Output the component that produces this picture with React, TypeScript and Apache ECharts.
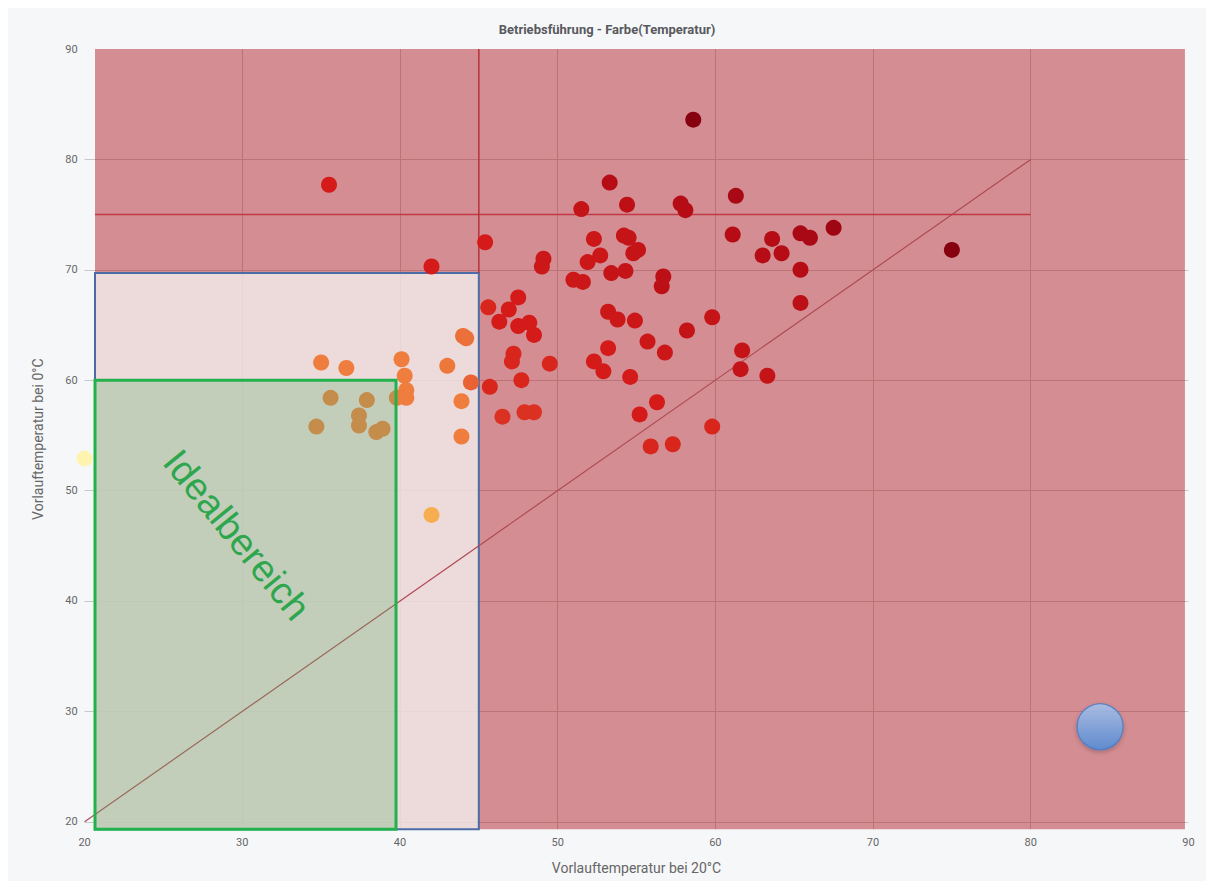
import { useEffect, useRef } from 'react';
import * as echarts from 'echarts';

// ---- texts ----
const chartTitle = 'Betriebsführung - Farbe(Temperatur)';
const xAxisName = 'Vorlauftemperatur bei 20°C';
const yAxisName = 'Vorlauftemperatur bei 0°C';
const idealLabel = 'Idealbereich';

// ---- axes ----
const xMin = 20;
const xMax = 90;
const yMin = 19.32;
const yMax = 90;

// ---- measured points: Vorlauftemperatur bei 20°C / bei 0°C / Temperatur (colour) ----
const vorlauf20 = [
  35.0, 36.6, 35.6, 37.9, 34.7, 37.4, 37.4, 38.5, 38.9, 40.1,
  40.3, 40.4, 40.4, 39.8, 42.0, 43.0, 44.0, 44.2, 44.5, 43.9,
  43.9, 35.5, 42.0, 45.4, 51.5, 53.3, 54.4, 57.8, 58.1, 58.6,
  61.3, 52.3, 54.2, 54.5, 52.7, 51.9, 54.8, 55.1, 49.1, 49.0,
  53.4, 54.3, 51.0, 51.6, 56.7, 56.6, 47.5, 45.6, 46.9, 46.3,
  47.5, 48.2, 48.5, 53.2, 53.8, 54.9, 55.7, 56.8, 58.2, 59.8,
  53.2, 52.3, 52.9, 47.2, 47.1, 49.5, 54.6, 47.7, 45.7, 46.5,
  47.9, 48.5, 56.3, 55.2, 55.9, 57.3, 59.8, 61.1, 63.6, 63.0,
  64.2, 65.4, 66.0, 67.5, 65.4, 65.4, 75.0, 61.7, 61.6, 63.3,
  20.0,
];
const vorlauf0 = [
  61.6, 61.1, 58.4, 58.2, 55.8, 56.8, 55.9, 55.3, 55.6, 61.9,
  60.4, 59.1, 58.4, 58.4, 47.8, 61.3, 64.0, 63.8, 59.8, 58.1,
  54.9, 77.7, 70.3, 72.5, 75.5, 77.9, 75.9, 76.0, 75.4, 83.6,
  76.7, 72.8, 73.1, 72.9, 71.3, 70.7, 71.5, 71.8, 71.0, 70.3,
  69.7, 69.9, 69.1, 68.9, 69.4, 68.5, 67.5, 66.6, 66.4, 65.3,
  64.9, 65.2, 64.1, 66.2, 65.5, 65.4, 63.5, 62.5, 64.5, 65.7,
  62.9, 61.7, 60.8, 62.4, 61.7, 61.5, 60.3, 60.0, 59.4, 56.7,
  57.1, 57.1, 58.0, 56.9, 54.0, 54.2, 55.8, 73.2, 72.8, 71.3,
  71.5, 73.3, 72.9, 73.8, 70.0, 67.0, 71.8, 62.7, 61.0, 60.4,
  52.9,
];
const temperatur = [
  4, 4, 4, 4, 4, 4, 4, 4, 4, 4,
  4, 4, 4, 4, 2, 4.2, 4.5, 4.5, 5, 4,
  4, 8, 8, 8, 9, 10, 9.5, 10, 10, 12,
  10.5, 8.5, 9, 9, 8.5, 8.5, 9, 9, 8.5, 8.5,
  9, 9, 8.5, 8.5, 9.5, 9.5, 8, 7.5, 8, 8,
  8, 8, 8, 8.5, 8.5, 8.5, 8.5, 8.5, 9, 9,
  8, 8, 8, 7.5, 7.5, 7.5, 8, 7.5, 7.5, 7,
  7, 7, 8, 8, 7.5, 7.5, 7.5, 10, 10, 10,
  10, 10.5, 10.5, 11, 10, 9.5, 12, 9, 9, 9,
  0,
];
const temperaturColors = ['#fff3b0', '#f6ae50', '#ee7d3e', '#e2472a', '#d41b19', '#b50c15', '#860010'];

// ---- zones [x0, y0, x1, y1] ----
const zoneAll = [20.66, 19.32, 89.78, 90];
const zoneBlue = [20.66, 19.32, 45, 69.7];
const zoneIdeal = [20.66, 19.32, 39.75, 60];

// ---- reference lines ----
const diagonalLine = [[20, 20], [80, 80]];
const horizontalLine = [[20.66, 75], [80, 75]];
const verticalLine = [[45, 69.7], [45, 90]];

// ---- annotations ----
const idealLabelPos = [29.66, 46.0];
const bluePoint = [84.4, 28.6];

const FONT = 'Roboto, "Noto Sans", "DejaVu Sans", sans-serif';

function zoneSeries(zone: number[], z: number, fill: string, stroke: string, lineWidth: number) {
  return {
    type: 'custom',
    z,
    silent: true,
    clip: false,
    data: [zone],
    encode: { x: [0, 2], y: [1, 3] },
    renderItem: (_params: any, api: any) => {
      const p0 = api.coord([api.value(0), api.value(3)]);
      const p1 = api.coord([api.value(2), api.value(1)]);
      return {
        type: 'rect',
        shape: { x: p0[0], y: p0[1], width: p1[0] - p0[0], height: p1[1] - p0[1] },
        style: { fill, stroke, lineWidth },
      };
    },
  };
}

function lineSeries(data: number[][], color: string, width: number) {
  return {
    type: 'line',
    z: 3,
    silent: true,
    symbol: 'none',
    data,
    lineStyle: { color, width },
  };
}

export default function App() {
  const ref = useRef<HTMLDivElement>(null);

  useEffect(() => {
    if (!ref.current) return;
    const chart = echarts.init(ref.current, undefined, { renderer: 'svg' });

    const points = vorlauf20.map((x, i) => [x, vorlauf0[i], temperatur[i]]);

    const option: any = {
      animation: false,
      backgroundColor: '#f6f7f9',
      title: {
        text: chartTitle,
        left: 'center',
        top: 10,
        textStyle: { fontFamily: FONT, fontSize: 13, fontWeight: 'bold', color: '#58595e' },
      },
      grid: { left: 76.6, right: 17.6, top: 41, bottom: 51.7, outerBoundsMode: 'none', containLabel: false },
      xAxis: {
        type: 'value',
        min: xMin,
        max: xMax,
        interval: 10,
        name: xAxisName,
        nameLocation: 'middle',
        nameGap: 32,
        nameTextStyle: { fontFamily: FONT, fontSize: 14, color: '#666' },
        axisLine: { show: false },
        axisTick: { show: false },
        axisLabel: { fontFamily: FONT, fontSize: 11, color: '#666', margin: 8 },
        splitLine: { show: true, showMinLine: false, showMaxLine: false, lineStyle: { color: '#c8c8c8', width: 1 } },
      },
      yAxis: {
        type: 'value',
        min: yMin,
        max: yMax,
        name: yAxisName,
        nameLocation: 'middle',
        nameGap: 40,
        nameTextStyle: { fontFamily: FONT, fontSize: 14, color: '#666' },
        axisLine: { show: false },
        axisTick: { show: false },
        axisLabel: {
          fontFamily: FONT,
          fontSize: 11,
          color: '#666',
          margin: 7,
          formatter: (v: number) => (Math.abs(v % 10) < 1e-6 ? String(v) : ''),
        },
        splitLine: { show: true, showMinLine: false, showMaxLine: false, lineStyle: { color: '#c8c8c8', width: 1 } },
      },
      visualMap: {
        type: 'continuous',
        show: false,
        dimension: 2,
        seriesIndex: 5,
        min: 0,
        max: 12,
        inRange: { color: temperaturColors },
      },
      series: [
        zoneSeries(zoneAll, 1, 'rgba(170,10,20,0.45)', 'none', 0),
        zoneSeries(zoneBlue, 2, 'rgba(242,237,237,0.8)', '#4b6ca6', 2),
        lineSeries(diagonalLine, '#b04a55', 1.2),
        lineSeries(horizontalLine, '#bf3a44', 1.5),
        lineSeries(verticalLine, '#b8303c', 1.5),
        {
          type: 'scatter',
          z: 4,
          symbolSize: 16,
          data: points,
          itemStyle: { opacity: 1 },
        },
        zoneSeries(zoneIdeal, 5, 'rgba(100,180,110,0.3)', '#22b14c', 3),
        {
          type: 'custom',
          z: 6,
          silent: true,
          clip: false,
          data: [idealLabelPos],
          encode: { x: 0, y: 1 },
          renderItem: (_params: any, api: any) => {
            const p = api.coord([api.value(0), api.value(1)]);
            return {
              type: 'text',
              x: p[0],
              y: p[1],
              rotation: -0.885,
              style: {
                text: idealLabel,
                fill: '#2ea64e',
                fontSize: 38,
                fontFamily: '"Liberation Sans", Arial, sans-serif',
                align: 'center',
                verticalAlign: 'middle',
              },
            };
          },
        },
        {
          type: 'scatter',
          z: 7,
          symbolSize: 46,
          data: [bluePoint],
          itemStyle: {
            color: new echarts.graphic.LinearGradient(0, 0, 0, 1, [
              { offset: 0, color: '#a4c9f6' },
              { offset: 1, color: '#4b8ddf' },
            ]),
            borderColor: '#4a7cc4',
            borderWidth: 1.5,
            shadowBlur: 4,
            shadowOffsetY: 2,
            shadowColor: 'rgba(0,0,0,0.25)',
          },
        },
      ],
    };

    chart.setOption(option);
    return () => chart.dispose();
  }, []);

  return (
    <div
      ref={ref}
      style={{ position: 'absolute', left: 8, top: 8, width: 1198, height: 873 }}
    />
  );
}
